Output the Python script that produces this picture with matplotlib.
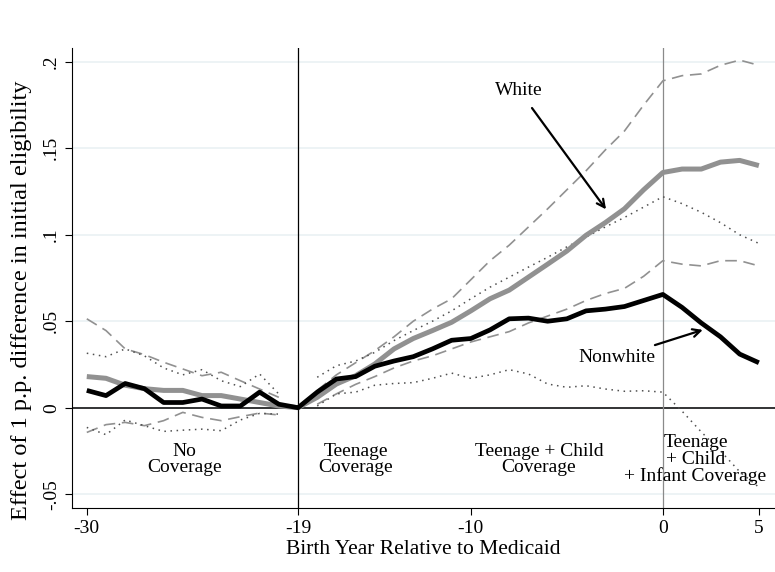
import numpy as np
import matplotlib
matplotlib.use("Agg")
import matplotlib.pyplot as plt

plt.rcParams["font.family"] = ["Liberation Serif", "DejaVu Serif"]

# birth year relative to Medicaid, -30 .. 5
years = np.arange(-30, 6)
nan = np.nan

white = [0.018, 0.017, 0.013, 0.011, 0.010, 0.010, 0.007, 0.007, 0.005, 0.003, 0.001, 0.0,
         0.006, 0.0137, 0.0185, 0.0253, 0.034, 0.040, 0.0446, 0.0494, 0.056, 0.063, 0.068,
         0.0755, 0.083, 0.0906, 0.0997, 0.107, 0.115, 0.126,
         0.136, 0.138, 0.138, 0.142, 0.143, 0.140]
white_hi = [0.0514, 0.0446, 0.034, 0.0307, 0.0263, 0.0224, 0.0185, 0.0205, 0.0156, 0.0108, 0.006, nan,
            0.010, 0.019, 0.026, 0.033, 0.041, 0.050, 0.057, 0.063, 0.074, 0.085, 0.094,
            0.1045, 0.115, 0.126, 0.137, 0.149, 0.160, 0.175,
            0.189, 0.192, 0.193, 0.198, 0.201, 0.198]
white_lo = [-0.0143, -0.0098, -0.0085, -0.0104, -0.0075, -0.0027, -0.0056, -0.0075, -0.0052, -0.0031, -0.0042, nan,
            0.002, 0.008, 0.0135, 0.018, 0.023, 0.027, 0.030, 0.034, 0.038, 0.041, 0.044,
            0.049, 0.053, 0.057, 0.062, 0.066, 0.069, 0.076,
            0.085, 0.083, 0.082, 0.085, 0.085, 0.082]

nonwhite = [0.010, 0.007, 0.014, 0.011, 0.003, 0.003, 0.005, 0.001, 0.001, 0.009, 0.002, 0.0,
            0.009, 0.0166, 0.018, 0.024, 0.027, 0.0295, 0.034, 0.039, 0.040, 0.045, 0.0514,
            0.0518, 0.050, 0.0514, 0.056, 0.057, 0.0585, 0.062,
            0.0655, 0.058, 0.049, 0.041, 0.031, 0.026]
nw_hi = [0.0315, 0.0295, 0.034, 0.030, 0.023, 0.019, 0.022, 0.0156, 0.0122, 0.0195, 0.0079, nan,
         0.0176, 0.0243, 0.027, 0.032, 0.0388, 0.0446, 0.050, 0.056, 0.063, 0.0697, 0.0755,
         0.0813, 0.087, 0.093, 0.0987, 0.1045, 0.110, 0.116,
         0.122, 0.118, 0.113, 0.107, 0.100, 0.095]
nw_lo = [-0.0114, -0.0156, -0.0071, -0.0104, -0.0137, -0.013, -0.0124, -0.0133, -0.0071, -0.0033, -0.0037, nan,
         0.001, 0.008, 0.009, 0.013, 0.014, 0.0145, 0.017, 0.020, 0.017, 0.019, 0.022,
         0.0195, 0.0137, 0.0118, 0.0127, 0.0108, 0.0095, 0.0098,
         0.009, -0.002, -0.014, -0.025, -0.037, -0.046]

xticks = [-30, -19, -10, 0, 5]
yticks = [-0.05, 0, 0.05, 0.1, 0.15, 0.2]
ytick_labels = ["-.05", "0", ".05", ".1", ".15", ".2"]

fig = plt.figure(figsize=(7.75, 5.72), dpi=100)
ax = fig.add_axes([72/775, 1-508/572, 1-72/775, (508-48)/572])

# light grid
for yv in yticks:
    ax.axhline(yv, color="#eaf1f3", lw=1.2, zorder=0)

ax.axhline(0, color="black", lw=1.1, zorder=1)
ax.axvline(-19, color="black", lw=0.9, zorder=1)
ax.axvline(0, color="#8a8a8a", lw=0.9, zorder=1)

gray = "#919191"
ax.plot(years, white_hi, color=gray, lw=1.2, dashes=(7, 4), zorder=2)
ax.plot(years, white_lo, color=gray, lw=1.2, dashes=(7, 4), zorder=2)
ax.plot(years, nw_hi, color="#505050", lw=1.1, linestyle=(0, (1, 3)), zorder=2)
ax.plot(years, nw_lo, color="#505050", lw=1.1, linestyle=(0, (1, 3)), zorder=2)
ax.plot(years, white, color=gray, lw=3.6, zorder=3, solid_capstyle="butt")
ax.plot(years, nonwhite, color="black", lw=3.4, zorder=4, solid_capstyle="butt")

# labels with arrows
ax.annotate("White", xy=(-2.96, 0.1147), xytext=(-7.5, 0.1837),
            fontsize=14, ha="center", va="center",
            arrowprops=dict(arrowstyle="->", lw=1.6, color="black",
                            shrinkA=6, shrinkB=0, mutation_scale=14))
ax.annotate("Nonwhite", xy=(2.08, 0.045), xytext=(-2.4, 0.0292),
            fontsize=14, ha="center", va="center",
            arrowprops=dict(arrowstyle="->", lw=1.6, color="black",
                            shrinkA=2, shrinkB=0, mutation_scale=14))

txt = dict(fontsize=14, ha="center", va="center", linespacing=0.95)
ax.text(-24.9, -0.030, "No\nCoverage", **txt)
ax.text(-16.0, -0.030, "Teenage\nCoverage", **txt)
ax.text(-6.45, -0.030, "Teenage + Child\nCoverage", **txt)
ax.text(1.7, -0.030, "Teenage\n+ Child\n+ Infant Coverage", **txt)

ax.set_xlim(-30.77, 5.84)
ax.set_ylim(-0.058, 0.208)
ax.set_xticks(xticks)
ax.set_xticklabels([str(t) for t in xticks])
ax.set_yticks(yticks)
ax.set_yticklabels(ytick_labels, rotation=90, va="center")
ax.tick_params(direction="out", length=5, width=0.8, labelsize=14, colors="black")

for s in ["top", "right"]:
    ax.spines[s].set_visible(False)
for s in ["left", "bottom"]:
    ax.spines[s].set_linewidth(0.8)

ax.set_xlabel("Birth Year Relative to Medicaid", fontsize=15.5, labelpad=2)
ax.set_ylabel("Effect of 1 p.p. difference in initial eligibility", fontsize=17.5)
ax.yaxis.set_label_coords(-0.057, 0.452)

fig.savefig("out.png", dpi=100)
